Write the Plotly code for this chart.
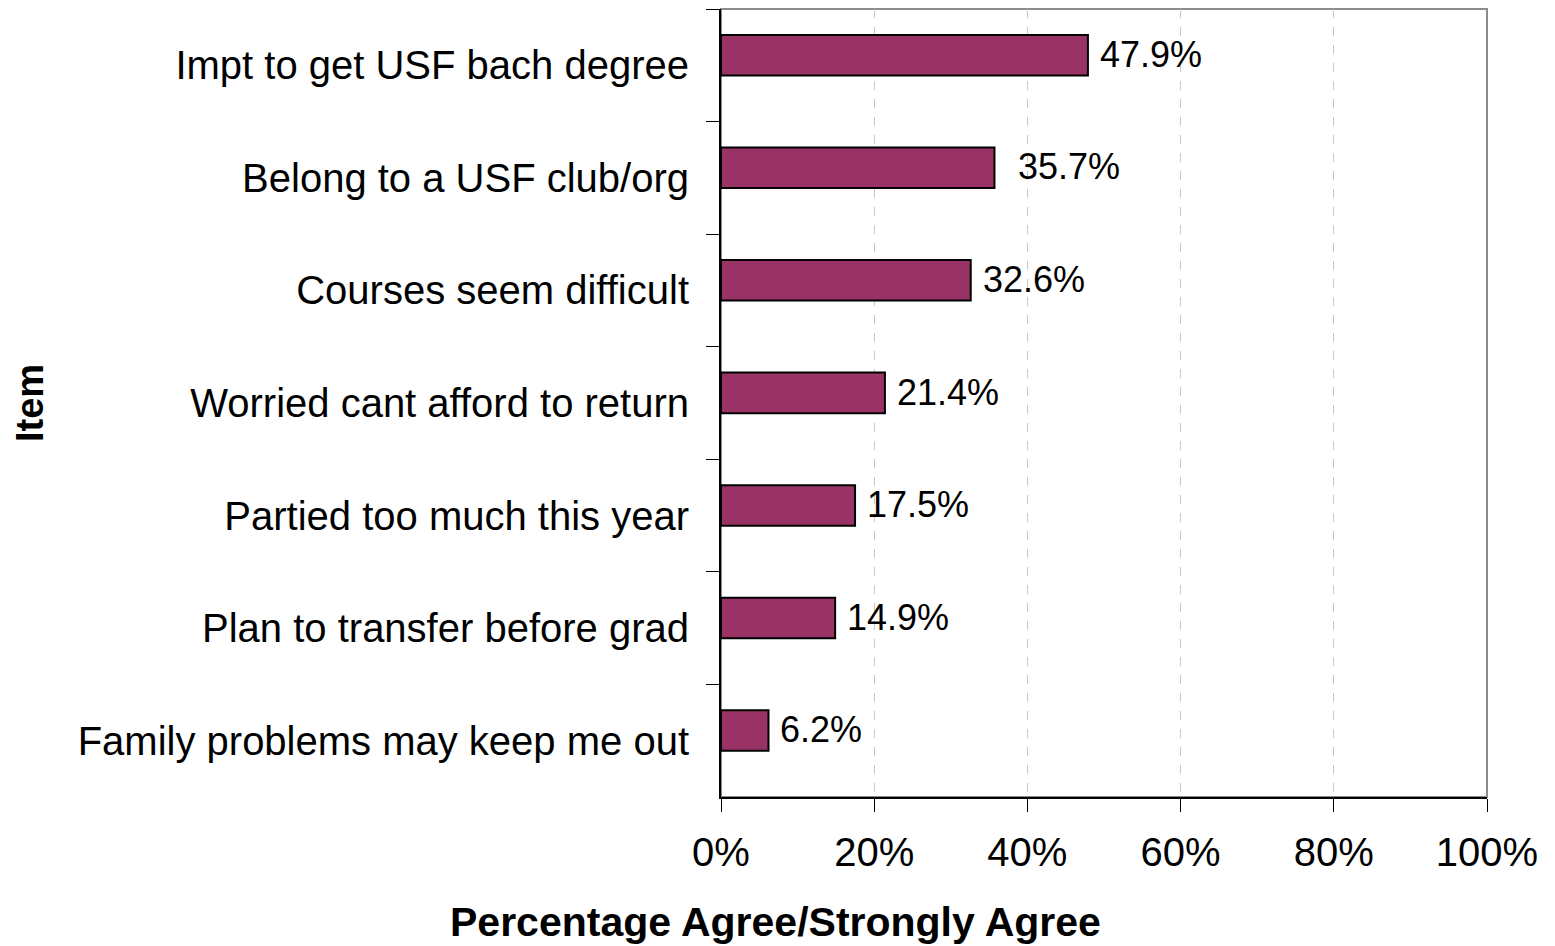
import plotly.graph_objects as go

categories = [
    "Impt to get USF bach degree",
    "Belong to a USF club/org",
    "Courses seem difficult",
    "Worried cant afford to return",
    "Partied too much this year",
    "Plan to transfer before grad",
    "Family problems may keep me out",
]
values = [47.9, 35.7, 32.6, 21.4, 17.5, 14.9, 6.2]
label_gaps = [10, 22, 10, 10, 10, 10, 10]
x_ticks = [0, 20, 40, 60, 80, 100]
x_tick_labels = ["0%", "20%", "40%", "60%", "80%", "100%"]

FONT = "Liberation Sans, Arial, sans-serif"

# page has an 8px body margin; figure is sized to fit the window
W, H = 1547, 938
L, R, T, B = 713, 68, 1, 149

fig = go.Figure()
fig.add_trace(go.Bar(
    y=categories,
    x=values,
    orientation="h",
    marker=dict(color="#993366", line=dict(color="black", width=2)),
    width=0.36,
    offset=-0.27,
    hoverinfo="x+y",
))

for c, v, g in zip(categories, values, label_gaps):
    fig.add_annotation(
        x=v, y=c, xref="x", yref="y", text=f"{v:.1f}%",
        showarrow=False, xanchor="left", yanchor="middle", xshift=g, yshift=11,
        font=dict(family=FONT, size=36, color="black"),
    )

# plot area border (gray top/right)
fig.add_shape(type="rect", xref="x domain", yref="y domain",
              x0=0, x1=1, y0=0, y1=1,
              line=dict(color="#8c8c8c", width=2), layer="below")

fig.add_annotation(
    text="<b>Percentage Agree/Strongly Agree</b>", xref="paper", yref="paper",
    x=(775 - 8 - L) / (W - L - R), y=0, xanchor="center", yanchor="middle",
    yshift=-125, showarrow=False,
    font=dict(family=FONT, size=41, color="black"),
)
fig.add_annotation(
    text="<b>Item</b>", xref="paper", yref="paper",
    x=0, y=0.5, xanchor="center", yanchor="middle", showarrow=False, textangle=-90,
    xshift=-(L - 22),
    font=dict(family=FONT, size=38, color="black"),
)

fig.update_layout(
    width=W, height=H,
    margin=dict(l=L, r=R, t=T, b=B, pad=0),
    paper_bgcolor="white", plot_bgcolor="white",
    showlegend=False,
    font=dict(family=FONT, color="black"),
)
fig.update_xaxes(
    range=[0, 100], tickvals=x_ticks, ticktext=x_tick_labels,
    showgrid=True, gridcolor="#c8c8c8", griddash="dash", gridwidth=1,
    showline=True, linecolor="black", linewidth=2,
    ticks="outside", ticklen=13, tickcolor="black", tickwidth=1,
    tickfont=dict(family=FONT, size=40, color="black"),
    ticklabelstandoff=6, zeroline=False,
)
fig.update_yaxes(
    categoryorder="array", categoryarray=categories, autorange="reversed",
    showgrid=False, showline=True, linecolor="black", linewidth=2,
    ticks="outside", ticklen=13, tickcolor="black", tickwidth=1,
    tickson="boundaries",
    tickfont=dict(family=FONT, size=40, color="black"),
    ticklabelstandoff=22,
)

fig.write_html("out.html")
